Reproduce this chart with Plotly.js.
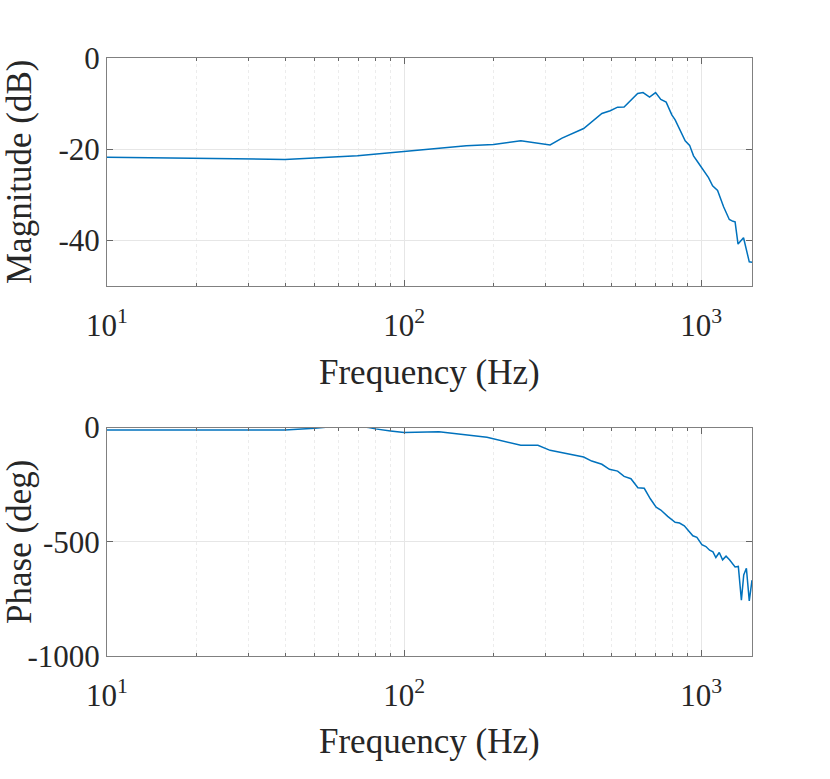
<!DOCTYPE html>
<html>
<head>
<meta charset="utf-8">
<script src="https://cdn.plot.ly/plotly-3.0.1.min.js"></script>
<style>
  body { margin: 0; background: #fff; }
  #chart { width: 830px; height: 779px; }
</style>
</head>
<body>
<div id="chart"></div>
<script>
// Magnitude response
const magFreqHz = [10, 39.7, 69.7, 100, 128.5, 162, 200, 247, 310, 340, 402, 463, 494, 523, 550,
    611, 637, 670, 702, 731, 762, 796, 817, 849, 883, 914, 942, 972, 1005, 1058, 1092, 1135,
    1189, 1243, 1279, 1300, 1330, 1388, 1451, 1482];
const magDb = [-21.8, -22.3, -21.5, -20.5, -19.8, -19.3, -19.0, -18.2, -19.1, -17.6, -15.5, -12.2, -11.6, -10.8, -10.75,
    -7.8, -7.6, -8.6, -7.6, -9.1, -9.7, -12.5, -13.6, -15.9, -18.2, -19.2, -21.5, -22.8, -24.2, -26.3, -28.1, -29.1,
    -32.7, -35.5, -35.9, -36.0, -40.9, -39.5, -44.8, -44.9];

// Phase response
const phaseFreqHz = [10, 39.7, 50, 56.5, 65, 76, 80, 90, 100, 131, 162, 190, 247, 282, 310, 340, 402, 428,
    463, 491, 523, 550, 580, 612, 643, 674, 705, 731, 771, 817, 845, 877, 906, 937, 967, 1005, 1037,
    1067, 1095, 1120, 1150, 1180, 1212, 1245, 1300, 1333, 1365, 1390, 1419, 1451, 1482];
const phaseDeg = [-11, -11, -3, 3, 10, 0, -6, -15, -22, -19, -32, -43, -78, -78, -100, -111, -129, -147,
    -161, -183, -191, -214, -224, -264, -266, -312, -349, -361, -389, -415, -418, -430, -452, -474, -481, -513, -521,
    -537, -544, -569, -547, -579, -563, -579, -610, -608, -756, -645, -616, -759, -668];

// Axis ticks
const freqTicks = [10, 100, 1000];
const freqTickText = ['10<sup>1</sup>', '10<sup>2</sup>', '10<sup>3</sup>'];
const minorTicks = [20, 30, 40, 50, 60, 70, 80, 90, 200, 300, 400, 500, 600, 700, 800, 900];
const magTicks = [0, -20, -40];
const magTickText = ['0', '-20', '-40'];
const phaseTicks = [0, -500, -1000];
const phaseTickText = ['0', '-500', '-1000'];

const FONT = 'Liberation Serif, Times New Roman, serif';
const TEXT = '#262626';
const lineColor = '#0072BD';

// plot areas in pixels of the 830x779 figure
const plotLeft = 107, plotRight = 752;
const topBox = [58, 285.5], bottomBox = [427.5, 656];
const px = v => v / 830;
const py = v => 1 - v / 779;

function freqAxis(anchor) {
    return {
        type: 'log',
        domain: [px(plotLeft), px(plotRight)],
        anchor: anchor,
        range: [1, Math.log10(1482)],
        tickmode: 'array',
        tickvals: freqTicks,
        ticktext: freqTickText,
        ticks: 'inside',
        ticklen: 6,
        tickcolor: '#666',
        ticklabelstandoff: 12,
        showline: true,
        linecolor: '#808080',
        mirror: 'ticks',
        showgrid: true,
        gridcolor: '#e6e6e6',
        zeroline: false,
        tickfont: { family: FONT, size: 31, color: TEXT },
        minor: {
            tickmode: 'array',
            tickvals: minorTicks,
            ticks: 'inside',
            ticklen: 3,
            tickcolor: '#666',
            showgrid: true,
            griddash: 'dot',
            gridcolor: '#ececec'
        }
    };
}

function valueAxis(box, anchor, range, vals, text, label) {
    return {
        domain: [py(box[1]), py(box[0])],
        anchor: anchor,
        range: range,
        tickmode: 'array',
        tickvals: vals,
        ticktext: text,
        ticks: 'inside',
        ticklen: 6,
        tickcolor: '#666',
        showline: true,
        linecolor: '#808080',
        mirror: 'ticks',
        showgrid: true,
        gridcolor: '#e6e6e6',
        zeroline: false,
        tickfont: { family: FONT, size: 31, color: TEXT },
        title: { text: label, font: { family: FONT, size: 35, color: TEXT } }
    };
}

const traceMag = {
    x: magFreqHz, y: magDb, type: 'scatter', mode: 'lines',
    line: { color: lineColor, width: 1.5 },
    xaxis: 'x', yaxis: 'y'
};
const tracePhase = {
    x: phaseFreqHz, y: phaseDeg, type: 'scatter', mode: 'lines',
    line: { color: lineColor, width: 1.5 },
    xaxis: 'x2', yaxis: 'y2'
};

// x labels sit close under the tick labels, as in MATLAB
function freqLabel(yPix) {
    return {
        text: 'Frequency (Hz)', xref: 'paper', yref: 'paper',
        x: px((plotLeft + plotRight) / 2), y: py(yPix),
        xanchor: 'center', yanchor: 'middle', showarrow: false,
        font: { family: FONT, size: 35, color: TEXT }
    };
}

const layout = {
    width: 830,
    height: 779,
    margin: { l: 0, r: 0, t: 0, b: 0 },
    paper_bgcolor: '#fff',
    plot_bgcolor: '#fff',
    showlegend: false,
    xaxis: freqAxis('y'),
    yaxis: valueAxis(topBox, 'x', [-50, 0], magTicks, magTickText, 'Magnitude (dB)'),
    xaxis2: freqAxis('y2'),
    yaxis2: valueAxis(bottomBox, 'x2', [-1000, 0], phaseTicks, phaseTickText, 'Phase (deg)'),
    annotations: [freqLabel(372), freqLabel(741)]
};

Plotly.newPlot('chart', [traceMag, tracePhase], layout, { staticPlot: true });
</script>
</body>
</html>
